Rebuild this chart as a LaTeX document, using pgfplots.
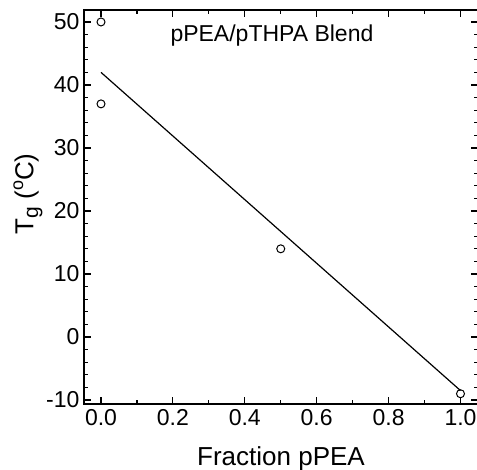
\documentclass[border=0pt]{standalone}
\usepackage{fontspec}
\setmainfont{Liberation Sans}
\usepackage{pgfplots}
\pgfplotsset{compat=1.18}
\begin{document}
\begin{tikzpicture}
\begin{scope}
\clip (-84pt,-65pt) rectangle (393pt,404pt);
\begin{axis}[
  scale only axis, width=394pt, height=394pt,
  at={(0,0)}, anchor=south west,
  xmin=-0.0473, xmax=1.0487, ymin=-10.63, ymax=51.9,
  xtick={0,0.2,0.4,0.6,0.8,1},
  xticklabels={0.0,0.2,0.4,0.6,0.8,1.0},
  ytick={-10,0,10,20,30,40,50},
  yticklabels={-10,0,10,20,30,40,50},
  minor x tick num=1, minor y tick num=4,
  major tick length=7pt, minor tick length=4pt,
  tick style={line width=1.1pt, black},
  axis line style={line width=1.5pt},
  ticklabel style={font=\fontsize{23}{23}\selectfont},
  xticklabel style={yshift=-2pt},
  yticklabel style={xshift=-1pt},
  xlabel={Fraction pPEA},
  ylabel={T\raisebox{-0.35ex}{\fontsize{21}{21}\selectfont g} (\raisebox{0.75ex}{\fontsize{18}{18}\selectfont o}C)},
  label style={font=\fontsize{26}{26}\selectfont},
  xlabel style={at={(axis description cs:0.5,0)}, anchor=base, yshift=-61pt},
  ylabel style={at={(axis description cs:0,0.533)}, anchor=center, rotate=0, yshift=56pt, font=\fontsize{26}{26}\selectfont},
]
\addplot[black, line width=1.2pt] coordinates {(0,42) (1,-8.5)};
\addplot[only marks, mark=o, mark size=4pt, mark options={line width=1pt}, black] coordinates {(0,50) (0,37) (0.5,14) (1,-9)};
\node[anchor=base, font=\fontsize{23}{23}\selectfont, yshift=-32pt] at (axis description cs:0.477,1) {pPEA/pTHPA Blend};
\end{axis}
\end{scope}
\pgfresetboundingbox
\useasboundingbox (-84pt,-65pt) rectangle (393pt,404pt);
\end{tikzpicture}
\end{document}
